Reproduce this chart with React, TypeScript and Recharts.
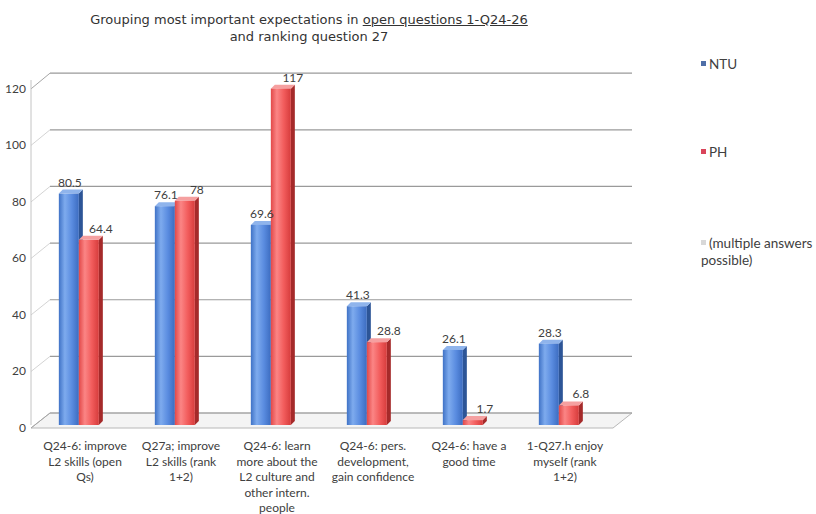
import React from "react";
import { BarChart, Bar, XAxis, YAxis, CartesianGrid, LabelList } from "recharts";

const categories = [
  "Q24-6: improve\nL2 skills (open\nQs)",
  "Q27a; improve\nL2 skills (rank\n1+2)",
  "Q24-6: learn\nmore about the\nL2 culture and\nother intern.\npeople",
  "Q24-6: pers.\ndevelopment,\ngain confidence",
  "Q24-6: have a\ngood time",
  "1-Q27.h enjoy\nmyself (rank\n1+2)",
];
const ntu = [80.5, 76.1, 69.6, 41.3, 26.1, 28.3];
const ph = [64.4, 78, 117, 28.8, 1.7, 6.8];
const yTicks = [0, 20, 40, 60, 80, 100, 120];

const data = categories.map((name, i) => ({ name, NTU: ntu[i], PH: ph[i] }));

const FONT = 'Lato, "DejaVu Sans Condensed", sans-serif';
const TITLE_FONT = '"DejaVu Sans", Verdana, sans-serif';
const TEXT = "#404040";

// front plane bottom; the back wall sits up and to the right of it
const PLOT_BOTTOM = 425;
const DEPTH_X = 19;
const RIGHT_EXTRA = 6;
const WALL_FLOOR = 413;
const WALL_SCALE = 0.985;
const LABEL_FLOOR = 428;
const LABEL_SCALE = 0.983;

const faceColors: Record<string, { side: string; top: string }> = {
  NTU: { side: "#2d5597", top: "#8fb4ec" },
  PH: { side: "#a52a2a", top: "#f5a0a0" },
};

function Bar3D(props: any) {
  const { x, y, width, height, dataKey } = props;
  if (height == null || width == null) return null;
  const d = 4;
  const dv = 4;
  const c = faceColors[dataKey] || faceColors.NTU;
  return (
    <g>
      <polygon
        points={`${x + width},${y} ${x + width + d},${y - dv} ${x + width + d},${y + height - dv} ${x + width},${y + height}`}
        fill={c.side}
      />
      <polygon
        points={`${x},${y} ${x + d},${y - dv} ${x + width + d},${y - dv} ${x + width},${y}`}
        fill={c.top}
      />
      <rect x={x} y={y} width={width} height={height} fill={`url(#grad${dataKey})`} />
    </g>
  );
}

function WallLine(props: any) {
  const { x1, y1 } = props;
  const x2 = props.x2 + RIGHT_EXTRA;
  const isFloor = Math.abs(y1 - PLOT_BOTTOM) < 1;
  const isTop = y1 < 90;
  const bx1 = x1 + DEPTH_X;
  const bx2 = x2 + DEPTH_X;
  const by = WALL_FLOOR - (PLOT_BOTTOM - y1) * WALL_SCALE;
  const fy = LABEL_FLOOR - (PLOT_BOTTOM - y1) * LABEL_SCALE;
  return (
    <g key={props.key}>
      {isFloor && (
        <polygon
          points={`${x1},${fy} ${bx1},${by} ${bx2},${by} ${x2},${fy}`}
          fill="#f4f4f4"
          stroke="#b8b8b8"
          strokeWidth={1}
        />
      )}
      <line x1={x1} y1={fy} x2={bx1} y2={by} stroke={isTop || isFloor ? "#a6a6a6" : "#d4d4d4"} strokeWidth={1} />
      <line x1={bx1} y1={by} x2={bx2} y2={by} stroke="#9a9a9a" strokeWidth={1.2} />
    </g>
  );
}

function CategoryTick(props: any) {
  const { x, y, payload } = props;
  const lines = String(payload.value).split("\n");
  const cx = x + 6;
  return (
    <text x={cx} y={y} textAnchor="middle" fill={TEXT} fontSize={12} fontFamily={FONT}>
      {lines.map((ln, i) => (
        <tspan key={i} x={cx} dy={i === 0 ? 23 : 15.5}>
          {ln}
        </tspan>
      ))}
    </text>
  );
}

function ValueTick(props: any) {
  const { x, y, payload } = props;
  const fy = LABEL_FLOOR - (PLOT_BOTTOM - y) * LABEL_SCALE;
  return (
    <text x={x - 3} y={fy + 4} textAnchor="end" fill={TEXT} fontSize={12} fontFamily={FONT}>
      {payload.value}
    </text>
  );
}

function makeLabel(dx: number) {
  return function ValueLabel(props: any) {
    const { x, y, width, value } = props;
    return (
      <text x={x + width / 2 + dx} y={y - 7} textAnchor="middle" fill={TEXT} fontSize={12} fontFamily={FONT}>
        {value}
      </text>
    );
  };
}
const NtuLabel = makeLabel(1);
const PhLabel = makeLabel(12);

function Legend3() {
  const items = [
    { color: "#4f6fa8", text: ["NTU"], top: 56 },
    { color: "#d9445a", text: ["PH"], top: 144 },
    { color: "#d8d8d8", text: ["(multiple answers", "possible)"], top: 235 },
  ];
  return (
    <div style={{ position: "absolute", left: 701, top: 0, fontFamily: FONT, fontSize: 13.5, color: TEXT }}>
      {items.map((it) => (
        <div key={it.text[0]} style={{ position: "absolute", top: it.top, left: 0, width: 120 }}>
          <span
            style={{ position: "absolute", left: 0, top: 5, width: 5, height: 5, background: it.color }}
          />
          <div style={{ marginLeft: 8, lineHeight: "17px", whiteSpace: "nowrap" }}>
            {it.text.map((t, i) => (
              <div key={i} style={{ marginLeft: i === 0 ? 0 : -8 }}>
                {t}
              </div>
            ))}
          </div>
        </div>
      ))}
    </div>
  );
}

export default function App() {
  return (
    <div style={{ position: "absolute", left: 0, top: 0, width: 816, height: 514, background: "#fff", overflow: "hidden" }}>
      <div
        style={{
          position: "absolute",
          left: 0,
          top: 11,
          width: 618,
          textAlign: "center",
          fontFamily: TITLE_FONT,
          fontSize: 13,
          color: "#333",
          lineHeight: "17px",
        }}
      >
        <div>
          Grouping most important expectations in <span style={{ textDecoration: "underline" }}>open questions 1-Q24-26</span>
        </div>
        <div>and ranking question 27</div>
      </div>
      <BarChart
        width={816}
        height={514}
        data={data}
        margin={{ top: 80, right: 209, bottom: 0, left: -3 }}
        barCategoryGap="29%"
        barGap={0}
      >
        <defs>
          <linearGradient id="gradNTU" x1="0" y1="0" x2="1" y2="0">
            <stop offset="0%" stopColor="#3f72c6" />
            <stop offset="30%" stopColor="#7eabee" />
            <stop offset="65%" stopColor="#5a8ce0" />
            <stop offset="100%" stopColor="#3c6cc0" />
          </linearGradient>
          <linearGradient id="gradPH" x1="0" y1="0" x2="1" y2="0">
            <stop offset="0%" stopColor="#e24848" />
            <stop offset="30%" stopColor="#fb8585" />
            <stop offset="65%" stopColor="#f25c5c" />
            <stop offset="100%" stopColor="#d63c3c" />
          </linearGradient>
        </defs>
        <CartesianGrid vertical={false} horizontal={(p: any) => <WallLine {...p} />} />
        <XAxis
          dataKey="name"
          height={89}
          axisLine={false}
          tickLine={false}
          tickSize={0}
          interval={0}
          tick={<CategoryTick />}
        />
        <YAxis
          width={34}
          domain={[0, 120]}
          ticks={yTicks}
          interval={0}
          axisLine={{ stroke: "#c4c4c4" }}
          tickLine={false}
          tickSize={0}
          tick={<ValueTick />}
        />
        <Bar dataKey="NTU" fill="#4f81d0" isAnimationActive={false} shape={(p: any) => <Bar3D {...p} dataKey="NTU" />}>
          <LabelList dataKey="NTU" content={<NtuLabel />} />
        </Bar>
        <Bar dataKey="PH" fill="#e85050" isAnimationActive={false} shape={(p: any) => <Bar3D {...p} dataKey="PH" />}>
          <LabelList dataKey="PH" content={<PhLabel />} />
        </Bar>
      </BarChart>
      <Legend3 />
    </div>
  );
}
